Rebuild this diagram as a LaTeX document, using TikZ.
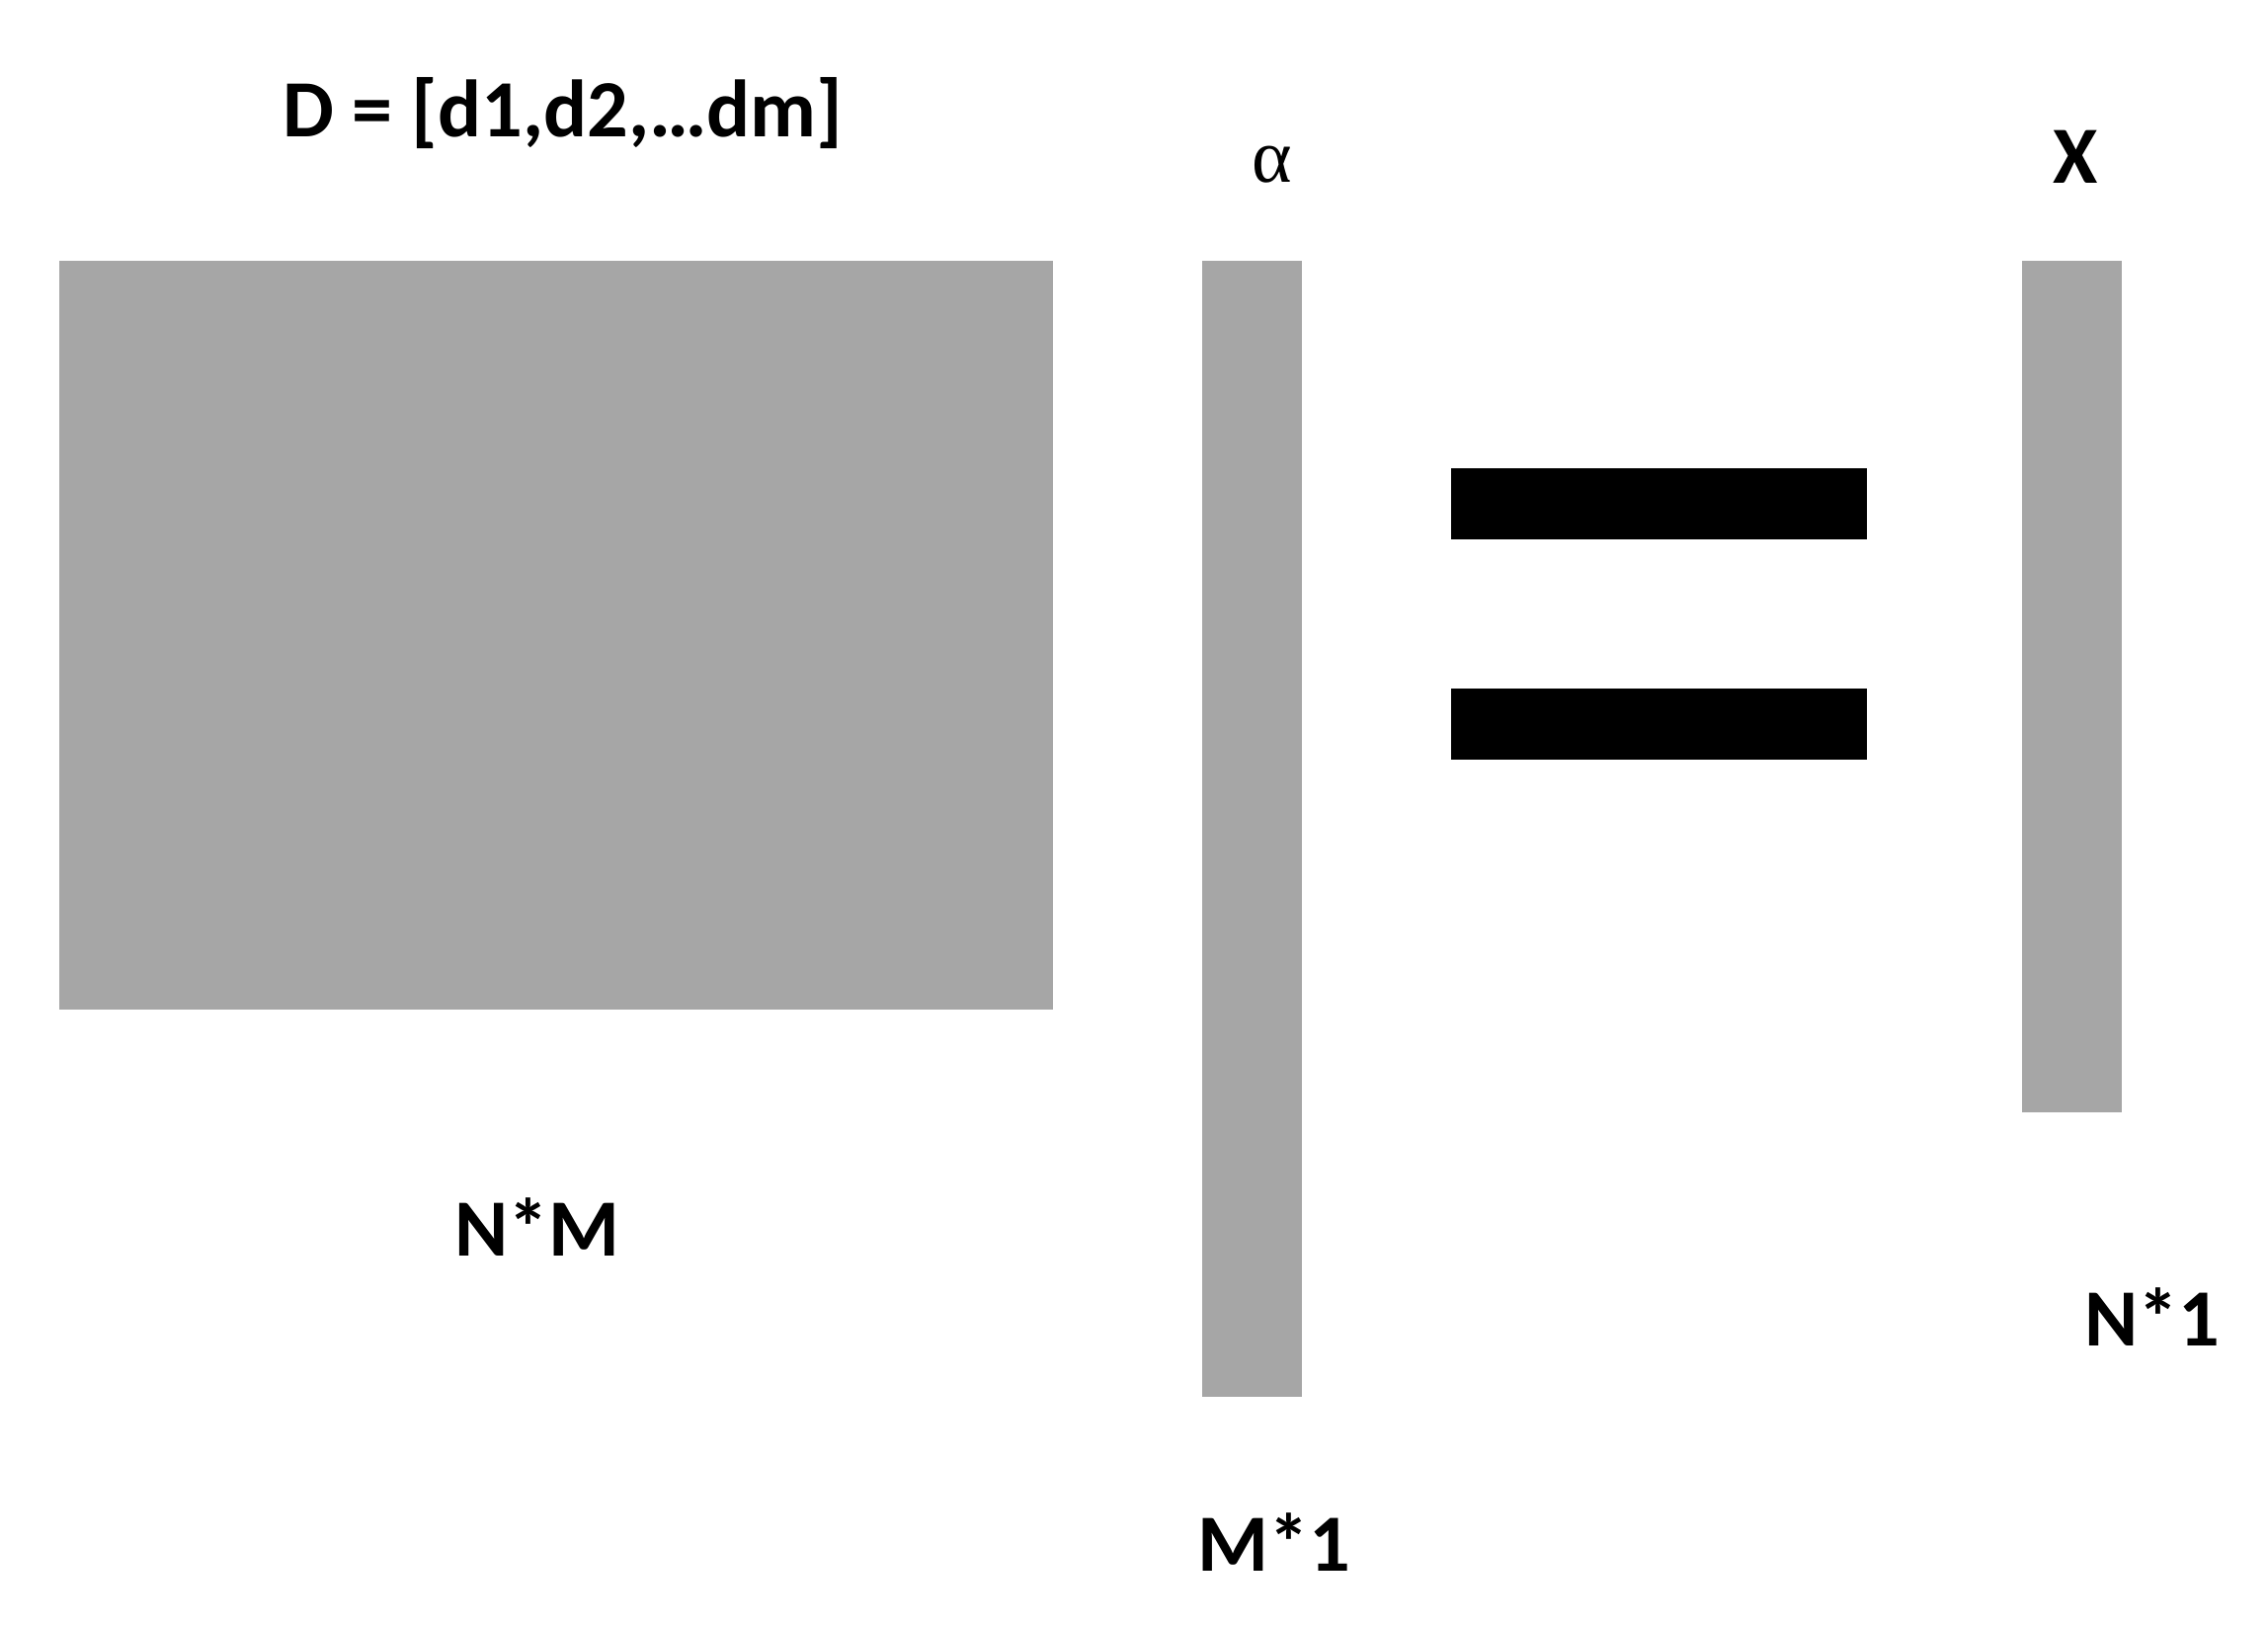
\documentclass[tikz,border=0pt]{standalone}
\usepackage{fontspec}
\setmainfont{Carlito}
\newfontfamily\greekfont{Liberation Serif}
\usepackage{tikz}
\usetikzlibrary{positioning}

\definecolor{matgray}{RGB}{166,166,166}

\begin{document}
\begin{tikzpicture}[blockstyle/.style={
	rectangle,fill=matgray,draw=none,inner sep=0pt,outer sep=0pt
},barstyle/.style={
	rectangle,fill=black,draw=none,inner sep=0pt,minimum width=4.21cm,minimum height=0.72cm
},labelstyle/.style={
	anchor=base,inner sep=0pt,font=\bfseries\fontsize{23.4}{28}\selectfont
}]
	\useasboundingbox (0,0) rectangle (22.96,16.46);

	% matrix D, vector alpha, vector X
	\node[blockstyle,minimum width=10.06cm,minimum height=7.58cm] at (5.63,10.03) (dmat) {};
	\node[blockstyle,minimum width=1.01cm,minimum height=11.50cm] at (12.675,8.07) (avec) {};
	\node[blockstyle,minimum width=1.01cm,minimum height=8.62cm] at (20.975,9.51) (xvec) {};

	% equals sign
	\node[barstyle] at (16.795,11.36) (eqtop) {};
	\node[barstyle] at (16.795,9.13) (eqbot) {};

	\node[labelstyle] at (5.70,15.07) (dname) {D = [d1,d2,\ldots dm]};
	\node[labelstyle,font=\greekfont\fontsize{22}{26}\selectfont] at (12.88,14.61) (aname) {α};
	\node[labelstyle] at (21.01,14.60) (xname) {X};

	\node[labelstyle] at (5.44,3.74) (dsize) {N*M};
	\node[labelstyle] at (12.90,0.56) (asize) {M*1};
	\node[labelstyle] at (21.79,2.83) (xsize) {N*1};
\end{tikzpicture}
\end{document}
